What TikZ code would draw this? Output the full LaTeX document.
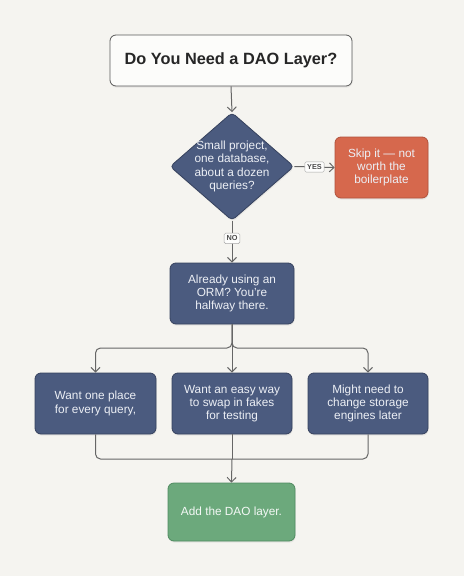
\documentclass[tikz,border=0pt]{standalone}
\usepackage{fontspec}
\setmainfont{Liberation Sans}
\usetikzlibrary{shapes.geometric,arrows.meta,shadows}
\definecolor{bg}{HTML}{F5F4F0}
\definecolor{navy}{HTML}{4B5B7F}
\definecolor{navyd}{HTML}{36425E}
\definecolor{orng}{HTML}{D6684D}
\definecolor{orngd}{HTML}{B0523C}
\definecolor{grn}{HTML}{6CA97C}
\definecolor{grnd}{HTML}{4F8A60}
\definecolor{edgec}{HTML}{666666}
\definecolor{lighttxt}{HTML}{ECEFF5}
\tikzset{
  x=1pt,y=-1pt,
  shad/.style={drop shadow={opacity=0.12,shadow xshift=0.6pt,shadow yshift=-1.6pt}},
  boxn/.style={shad,rectangle,rounded corners=6pt,draw=navyd,line width=0.8pt,fill=navy,
    text=lighttxt,align=center,inner sep=0pt,font=\fontsize{11.8}{13.3}\selectfont},
  dia/.style={shad,diamond,draw=navyd,line width=0.8pt,fill=navy,rounded corners=4pt,inner sep=0pt},
  txtn/.style={text=lighttxt,align=center,inner sep=0pt,font=\fontsize{11.8}{13.3}\selectfont},
  titlebox/.style={shad,rectangle,rounded corners=6pt,draw=black!65,line width=0.8pt,fill=white!70!bg,
    inner sep=0pt,font=\bfseries\fontsize{16.3}{19}\selectfont,text=black!85},
  tagl/.style={rectangle,rounded corners=1.5pt,draw=black!35,line width=0.5pt,fill=white!80!bg,
    inner xsep=2.4pt,inner ysep=2.6pt,font=\bfseries\fontsize{7.3}{8}\selectfont,text=black!70},
  conn/.style={draw=edgec,line width=1pt},
  arr/.style={conn,-{Straight Barb[length=4.5pt,width=9pt,line width=1pt]}},
}
\begin{document}
\begin{tikzpicture}
\fill[bg] (0,0) rectangle (464,576);
\useasboundingbox (0,0) rectangle (464,576);

\node[titlebox,minimum width=242pt,minimum height=51pt] (title) at (231,60.5) {Do You Need a DAO Layer?};

\node[dia,minimum width=124pt,minimum height=108pt] (d) at (232,166.5) {};
\node[txtn] (dt) at (d.center) {Small project,\\one database,\\about a dozen\\queries?};

\node[shad,rectangle,rounded corners=6pt,draw=orngd,line width=0.8pt,fill=orng,text=lighttxt,
  align=center,inner sep=0pt,font=\fontsize{11.8}{13.3}\selectfont,
  minimum width=93pt,minimum height=61pt] (skip) at (381.5,167.5) {Skip it — not\\worth the\\boilerplate};

\node[boxn,minimum width=124pt,minimum height=61pt] (orm) at (232,293.5) {Already using an\\ORM? You're\\halfway there.};

\node[boxn,minimum width=121pt,minimum height=61pt] (b1) at (95.5,403.5) {Want one place\\for every query,};
\node[boxn,minimum width=120pt,minimum height=61pt] (b2) at (232,403.5) {Want an easy way\\to swap in fakes\\for testing};
\node[boxn,minimum width=120pt,minimum height=61pt] (b3) at (368,403.5) {Might need to\\change storage\\engines later};

\node[shad,rectangle,rounded corners=6pt,draw=grnd,line width=0.8pt,fill=grn,text=white!92!grn,
  align=center,inner sep=0pt,font=\fontsize{11.8}{13.3}\selectfont,
  minimum width=127pt,minimum height=58pt] (dao) at (231.5,512) {Add the DAO layer.};

\coordinate (split) at (232,348);
\coordinate (merge) at (232,459);

\draw[arr] (title.south) -- (d.north);
\draw[arr] (d.east) -- node[tagl] (yes) {YES} (skip.west);
\draw[arr] (d.south) -- node[tagl,pos=0.42] (no) {NO} (orm.north);

\draw[conn] (orm.south) -- (split);
\draw[arr,rounded corners=5pt] (orm.south) -- (split) -| (b1.north);
\draw[arr,rounded corners=5pt] (orm.south) -- (split) -| (b3.north);
\draw[arr] (split) -- (b2.north);

\draw[conn,rounded corners=5pt] (b1.south) |- (merge);
\draw[conn,rounded corners=5pt] (b3.south) |- (merge);
\draw[conn] (b2.south) -- (merge);
\draw[arr] (merge) -- (dao.north);
\end{tikzpicture}
\end{document}
